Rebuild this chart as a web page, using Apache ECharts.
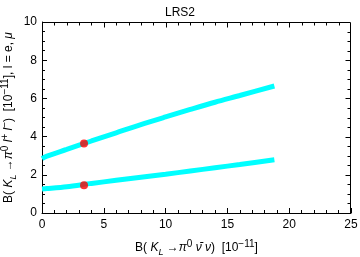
<!DOCTYPE html>
<html><head><meta charset="utf-8">
<script src="https://cdn.jsdelivr.net/npm/echarts@6/dist/echarts.min.js"></script>
<style>html,body{margin:0;padding:0;background:#fff}#c{width:360px;height:257px}</style>
</head><body><div id="c"></div>
<script>
var xVals = [0, 0.4, 2, 4, 6, 8, 10, 12, 14, 16, 18.8];
var upperVals = [2.85, 2.98, 3.33, 3.77, 4.2, 4.63, 5.03, 5.42, 5.8, 6.15, 6.65];
var lowerVals = [1.26, 1.28, 1.38, 1.55, 1.71, 1.87, 2.03, 2.2, 2.37, 2.54, 2.79];
var dotX = [3.4, 3.4];
var dotY = [3.64, 1.45];
var xTicks = [0, 5, 10, 15, 20, 25];
var yTicks = [0, 2, 4, 6, 8, 10];

var F = 'Liberation Sans, Arial, Helvetica, sans-serif';
var rich = {
  t: {fontSize: 12, fontFamily: F, color: '#000', lineHeight: 18},
  i: {fontSize: 12, fontFamily: F, fontStyle: 'italic', color: '#000', lineHeight: 18},
  sub: {fontSize: 9, fontFamily: F, fontStyle: 'italic', color: '#000', verticalAlign: 'bottom', lineHeight: 12},
  sup: {fontSize: 10, fontFamily: F, color: '#000', verticalAlign: 'top', lineHeight: 12}
};
function pairs(xs, ys){ return xs.map(function(x,i){ return [x, ys[i]]; }); }
function ls(){ return {color: '#000', width: 1}; }

var chart = echarts.init(document.getElementById('c'));
chart.setOption({
  animation: false,
  title: {text: 'LRS2', left: 'center', top: 2,
    textStyle: {fontSize: 12, fontWeight: 'normal', fontFamily: F, color: '#000'}},
  grid: {left: 42, right: 9, top: 22, bottom: 44, outerBoundsMode: 'none'},
  xAxis: [
    {type: 'value', min: 0, max: 25, interval: 5,
      axisLine: {show: true, onZero: false, lineStyle: ls()},
      axisTick: {show: true, inside: true, length: 5, lineStyle: ls()},
      minorTick: {show: true, splitNumber: 5, length: 3, lineStyle: ls()},
      splitLine: {show: false},
      axisLabel: {fontSize: 12, fontFamily: F, color: '#000', margin: 6},
      name: '{t|B( }{i|K}{sub|L}{t| →}{i|π}{sup|0}{t| }{i|ν̄ ν}{t|)  [10}{sup|−11}{t|]}',
      nameLocation: 'middle', nameGap: 26, nameMoveOverlap: false,
      nameTextStyle: {rich: rich}}
  ],
  yAxis: [
    {type: 'value', min: 0, max: 10, interval: 2,
      axisLine: {show: true, onZero: false, lineStyle: ls()},
      axisTick: {show: true, inside: true, length: 5, lineStyle: ls()},
      minorTick: {show: true, splitNumber: 4, length: 3, lineStyle: ls()},
      splitLine: {show: false},
      axisLabel: {fontSize: 12, fontFamily: F, color: '#000', margin: 5},
      name: '{t|B( }{i|K}{sub|L}{t| →}{i|π}{sup|0}{t| }{i|l}{sup|+}{t| }{i|l}{sup|−}{t|)  [10}{sup|−11}{t|], l = e, }{i|μ}',
      nameLocation: 'middle', nameGap: 24, nameRotate: 90, nameMoveOverlap: false,
      nameTextStyle: {rich: rich}}
  ],
  series: [
    {type: 'line', data: pairs(xVals, upperVals), symbol: 'none', smooth: 0.3,
      lineStyle: {color: '#00ffff', width: 5, cap: 'butt'}, z: 2},
    {type: 'line', data: pairs(xVals, lowerVals), symbol: 'none', smooth: 0.3,
      lineStyle: {color: '#00ffff', width: 5, cap: 'butt'}, z: 2},
    {type: 'scatter', data: pairs(dotX, dotY), symbolSize: 8,
      itemStyle: {color: '#ff0000'}, z: 3}
  ]
});

// Frame on top and right, with ticks placed through the chart's own scales.
var p0 = chart.convertToPixel({xAxisIndex: 0, yAxisIndex: 0}, [0, 0]);
var p1 = chart.convertToPixel({xAxisIndex: 0, yAxisIndex: 0}, [25, 10]);
var L = Math.round(p0[0]) + 0.5, B = Math.round(p0[1]) + 0.5;
var R = Math.round(p1[0]) - 0.5, T = Math.round(p1[1]) + 0.5;
var els = [
  {type: 'line', shape: {x1: L, y1: T, x2: R, y2: T}, style: {stroke: '#000', lineWidth: 1}},
  {type: 'line', shape: {x1: R, y1: T, x2: R, y2: B}, style: {stroke: '#000', lineWidth: 1}}
];
for (var xv = 1; xv < 25; xv++) {
  var px = Math.round(chart.convertToPixel({xAxisIndex: 0}, xv)) + 0.5;
  var len = (xv % 5 === 0) ? 5 : 3;
  els.push({type: 'line', shape: {x1: px, y1: T, x2: px, y2: T + len}, style: {stroke: '#000', lineWidth: 1}});
}
for (var k = 1; k < 20; k++) {
  var yv = k * 0.5;
  var py = Math.round(chart.convertToPixel({yAxisIndex: 0}, yv)) + 0.5;
  var len2 = (k % 4 === 0) ? 5 : 3;
  els.push({type: 'line', shape: {x1: R, y1: py, x2: R - len2, y2: py}, style: {stroke: '#000', lineWidth: 1}});
}
chart.setOption({graphic: {elements: els}});
</script></body></html>
